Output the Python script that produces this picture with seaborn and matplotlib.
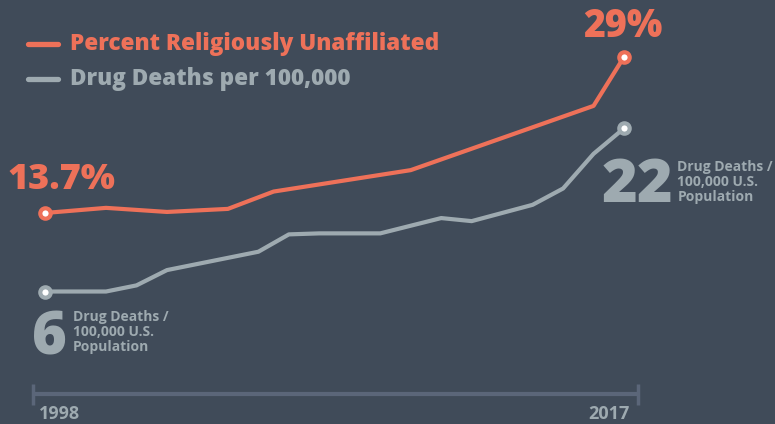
import matplotlib
matplotlib.use('Agg')
import matplotlib.pyplot as plt
import pandas as pd
import seaborn as sns

# Percent religiously unaffiliated (survey points)
unaff_years = [1998, 2000, 2002, 2004, 2005.5, 2010, 2016, 2017]
unaff_pct = [13.7, 14.2, 13.8, 14.1, 15.8, 17.9, 24.2, 29.0]

# Drug deaths per 100,000
drug_years = [1998, 2000, 2001, 2002, 2005, 2006, 2007, 2009, 2011, 2012, 2014, 2015, 2016, 2017]
drug_rate = [6.0, 6.0, 6.6, 8.1, 9.9, 11.6, 11.7, 11.7, 13.2, 12.9, 14.5, 16.1, 19.5, 22.0]

legend_labels = ['Percent Religiously Unaffiliated', 'Drug Deaths per 100,000']
year_labels = ['1998', '2017']

BG = '#404b59'
ORANGE = '#ee7159'
GRAY = '#9eaab0'
AXIS = '#5b6679'

sns.set_style('white')
plt.rcParams['font.family'] = ['Open Sans', 'DejaVu Sans']

df_u = pd.DataFrame({'year': unaff_years, 'value': unaff_pct})
df_d = pd.DataFrame({'year': drug_years, 'value': drug_rate})

fig = plt.figure(figsize=(7.75, 4.24), dpi=100, facecolor=BG)
ax = fig.add_axes([0, 0, 1, 1])
ax.set_facecolor(BG)

sns.lineplot(data=df_d, x='year', y='value', ax=ax, color=GRAY, linewidth=3, zorder=2)
sns.lineplot(data=df_u, x='year', y='value', ax=ax, color=ORANGE, linewidth=3, zorder=3)

# end markers
for years, vals, c in [(unaff_years, unaff_pct, ORANGE), (drug_years, drug_rate, GRAY)]:
    ax.plot([years[0], years[-1]], [vals[0], vals[-1]], 'o', ms=7.5, mfc='white',
            mec=c, mew=3, zorder=4, linestyle='none')

ax.set_xlim(1996.52, 2021.955)
ax.set_ylim(-6.99, 34.58)
ax.axis('off')

# value callouts
ax.text(unaff_years[0] - 1.24, unaff_pct[0] + 3.2, f'{unaff_pct[0]}%', color=ORANGE,
        fontsize=26, fontweight='heavy', ha='left', va='center')
ax.text(unaff_years[-1] - 0.05, unaff_pct[-1] + 3.0, f'{unaff_pct[-1]:.0f}%', color=ORANGE,
        fontsize=27, fontweight='heavy', ha='center', va='center')

ax.text(unaff_years[0] - 0.42, drug_rate[0] - 4.6, f'{drug_rate[0]:.0f}', color=GRAY,
        fontsize=43, fontweight='heavy', ha='left', va='center')
ax.text(1998.9, drug_rate[0] - 4.0, 'Drug Deaths /\n100,000 U.S.\nPopulation', color=GRAY,
        fontsize=10, fontweight='bold', ha='left', va='center', linespacing=1.1)

ax.text(2016.25, drug_rate[-1] - 5.7, f'{drug_rate[-1]:.0f}', color=GRAY,
        fontsize=44, fontweight='heavy', ha='left', va='center')
ax.text(2018.75, drug_rate[-1] - 5.3, 'Drug Deaths /\n100,000 U.S.\nPopulation', color=GRAY,
        fontsize=10, fontweight='bold', ha='left', va='center', linespacing=1.1)

# legend
for i, (lab, c) in enumerate(zip(legend_labels, [ORANGE, GRAY])):
    y = 0.897 - i * 0.083
    fig.add_artist(plt.Line2D([0.036, 0.075], [y, y], color=c, linewidth=3.8,
                              transform=fig.transFigure))
    fig.text(0.09, y, lab, color=c, fontsize=16.2, fontweight='heavy', va='center', ha='left')

# timeline axis
tl_y = -4.0
x0, x1 = unaff_years[0] - 0.4, unaff_years[-1] + 0.45
ax.plot([x0, x1], [tl_y, tl_y], color=AXIS, linewidth=3, solid_capstyle='butt')
for x in [x0, x1]:
    ax.plot([x, x], [tl_y + 0.95, tl_y - 1.1], color=AXIS, linewidth=2.5, solid_capstyle='butt')
ax.text(unaff_years[0] - 0.2, tl_y - 2.0, year_labels[0], color=GRAY, fontsize=13,
        fontweight='bold', ha='left', va='center')
ax.text(unaff_years[-1] + 0.2, tl_y - 2.0, year_labels[1], color=GRAY, fontsize=13,
        fontweight='bold', ha='right', va='center')

fig.savefig('out.png', dpi=100, facecolor=BG)
